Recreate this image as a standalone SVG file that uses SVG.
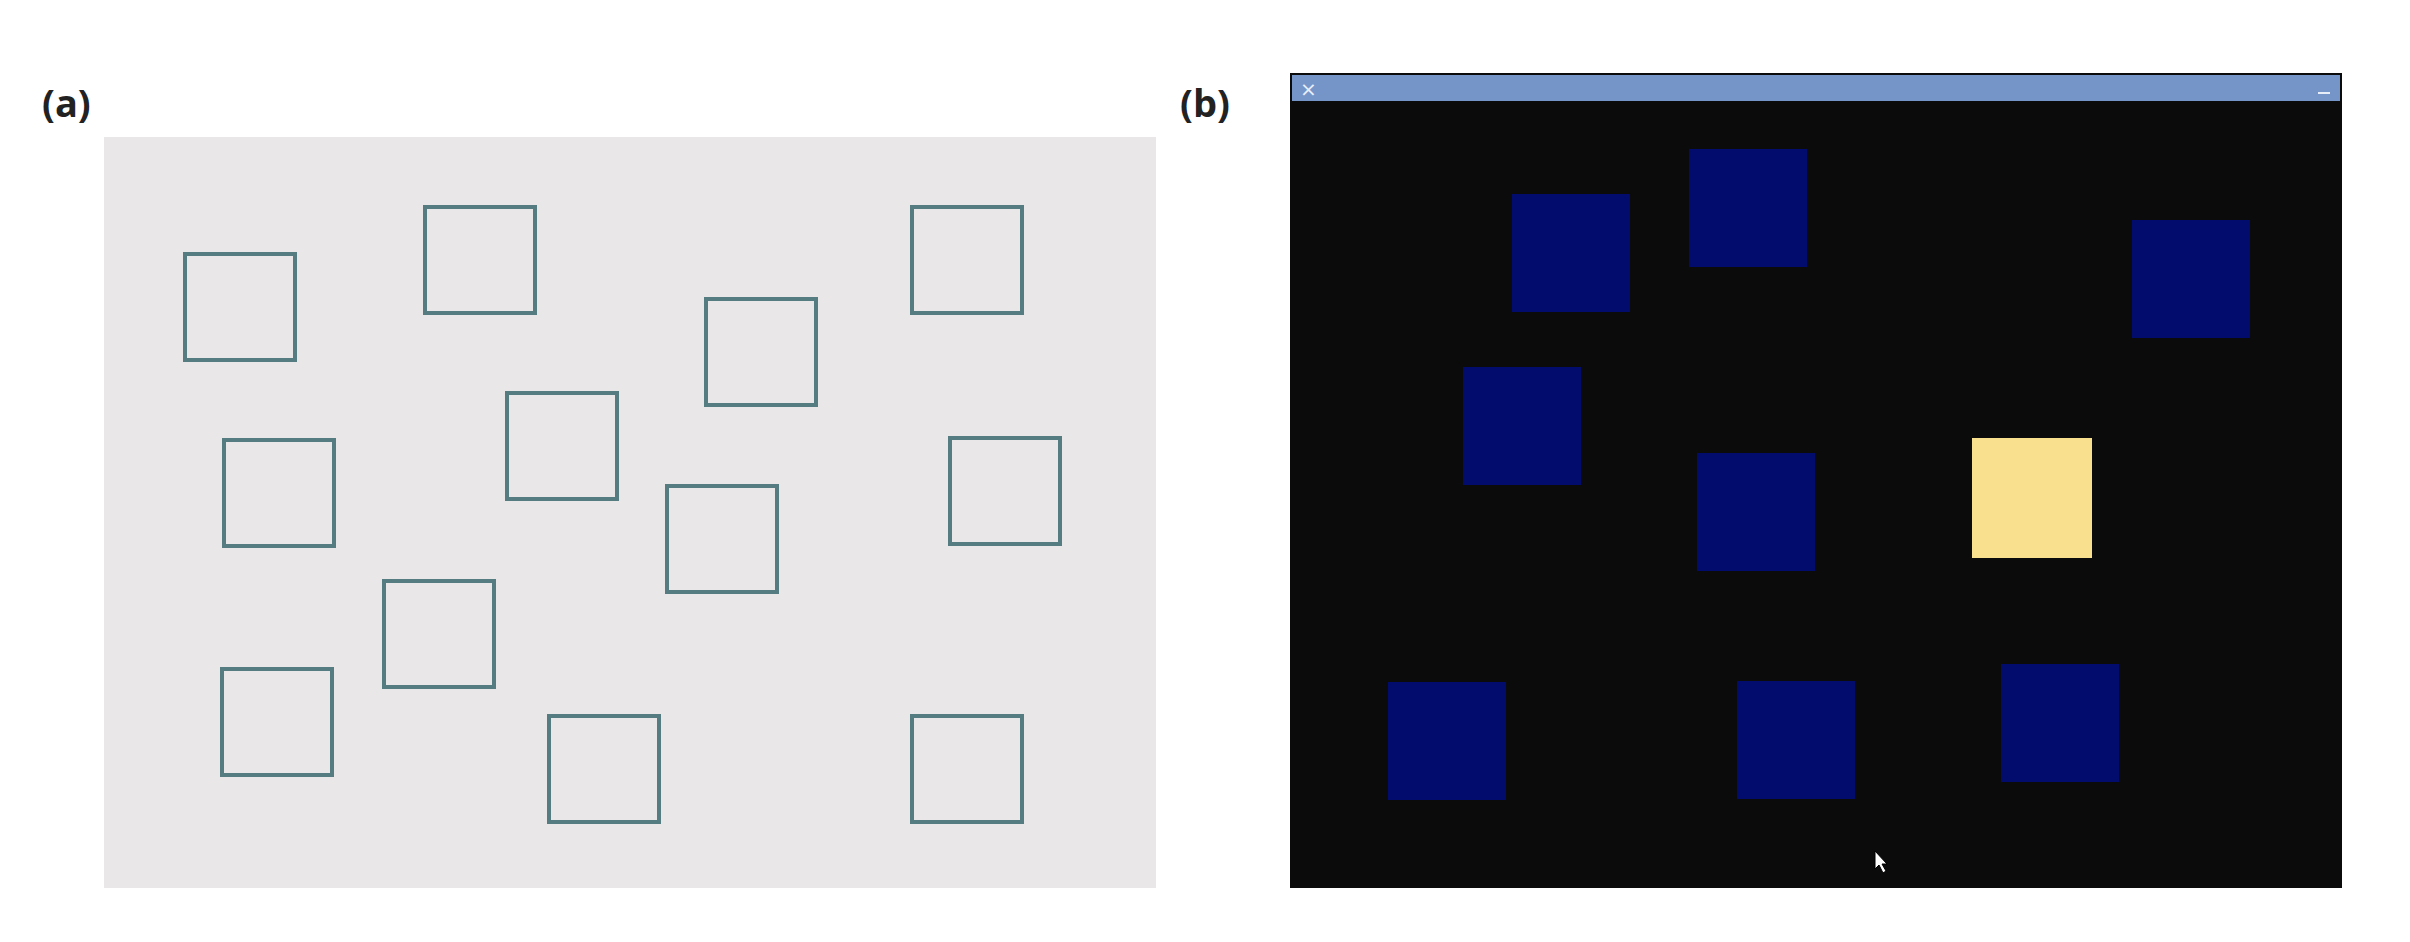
<svg xmlns="http://www.w3.org/2000/svg" width="2410" height="942" viewBox="0 0 2410 942">
<style>
.lbl{font-family:"Open Sans","Liberation Sans",sans-serif;font-weight:bold;font-size:38px;fill:#222}
.o{fill:none;stroke:#557c80;stroke-width:4}
.n{fill:#020c6c}
</style>
<rect width="2410" height="942" fill="#fff"/>
<text class="lbl" x="42" y="117">(a)</text>
<text class="lbl" x="1180" y="117">(b)</text>
<g id="panelA">
<rect x="104" y="137" width="1052" height="751" fill="#e9e7e8"/>
<rect class="o" x="185" y="254" width="110" height="106"/>
<rect class="o" x="425" y="207" width="110" height="106"/>
<rect class="o" x="912" y="207" width="110" height="106"/>
<rect class="o" x="706" y="299" width="110" height="106"/>
<rect class="o" x="224" y="440" width="110" height="106"/>
<rect class="o" x="507" y="393" width="110" height="106"/>
<rect class="o" x="667" y="486" width="110" height="106"/>
<rect class="o" x="950" y="438" width="110" height="106"/>
<rect class="o" x="384" y="581" width="110" height="106"/>
<rect class="o" x="222" y="669" width="110" height="106"/>
<rect class="o" x="549" y="716" width="110" height="106"/>
<rect class="o" x="912" y="716" width="110" height="106"/>
</g>
<g id="panelB">
<rect x="1290" y="73" width="1052" height="815" fill="#0b0b0b"/>
<rect x="1292" y="75" width="1048" height="26" fill="#7595c8"/>
<text x="1300" y="96" font-family="DejaVu Sans,sans-serif" font-size="20" fill="#e8eef8">×</text>
<rect x="2318" y="92" width="12" height="2" fill="#e8eef8"/>
<rect class="n" x="1512" y="194" width="118" height="118"/>
<rect class="n" x="1689" y="149" width="118" height="118"/>
<rect class="n" x="2132" y="220" width="118" height="118"/>
<rect class="n" x="1463" y="367" width="118" height="118"/>
<rect class="n" x="1697" y="453" width="118" height="118"/>
<rect x="1972" y="438" width="120" height="120" fill="#f8e08e"/>
<rect class="n" x="1388" y="682" width="118" height="118"/>
<rect class="n" x="1737" y="681" width="118" height="118"/>
<rect class="n" x="2001" y="664" width="118" height="118"/>
<polygon points="1875,851 1875,869 1879,865 1883,873 1886,871 1882,864 1887,864" fill="#fff" stroke="#000" stroke-width="1"/>
</g>
</svg>
